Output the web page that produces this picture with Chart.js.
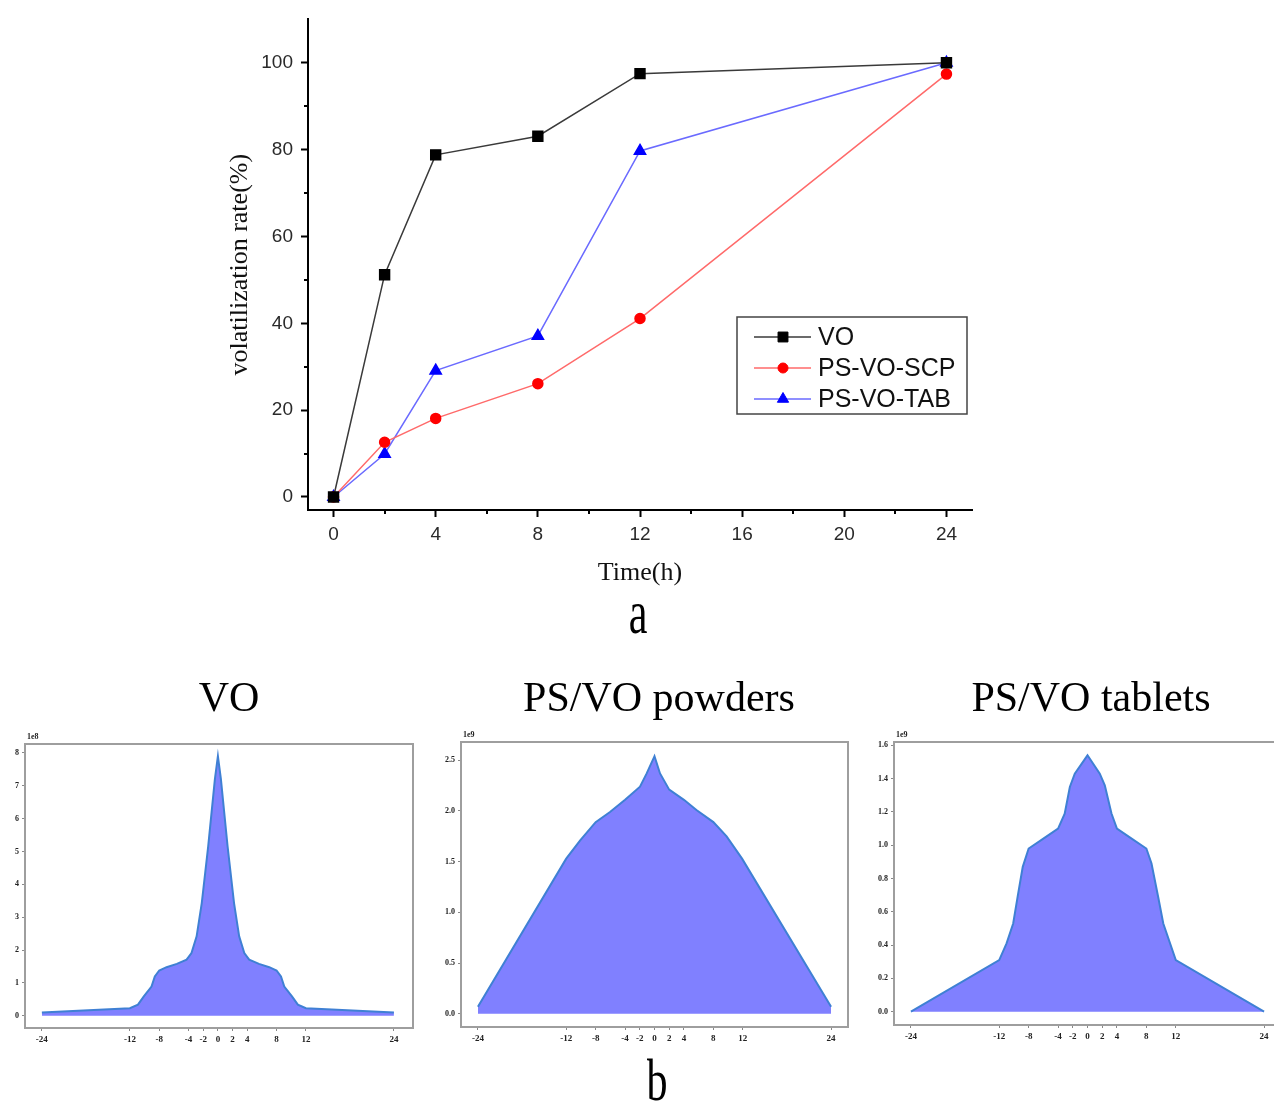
<!DOCTYPE html>
<html>
<head>
<meta charset="utf-8">
<script src="https://cdn.jsdelivr.net/npm/chart.js@4.4.0/dist/chart.umd.min.js"></script>
<style>
  html, body { margin: 0; padding: 0; background: #fff; overflow: hidden; width: 1274px; height: 1102px; }
  canvas { position: absolute; }
  .lbl { position: absolute; font-family: "Liberation Serif", "Times New Roman", serif; color: #000;
         white-space: nowrap; line-height: 1; }
</style>
</head>
<body>
<canvas id="rate" width="1274" height="600" style="left:0;top:0"></canvas>
<canvas id="profVO" width="430" height="410" style="left:0;top:650px"></canvas>
<canvas id="profPowder" width="430" height="410" style="left:430px;top:650px"></canvas>
<canvas id="profTablet" width="430" height="410" style="left:860px;top:650px"></canvas>

<div class="lbl" style="left:638px;top:612px;font-size:62px;transform:translate(-50%,-50%) scaleX(0.68)">a</div>
<div class="lbl" style="left:229px;top:697px;font-size:42px;transform:translate(-50%,-50%)">VO</div>
<div class="lbl" style="left:659px;top:697px;font-size:42px;transform:translate(-50%,-50%)">PS/VO powders</div>
<div class="lbl" style="left:1091px;top:697px;font-size:42px;transform:translate(-50%,-50%)">PS/VO tablets</div>
<div class="lbl" style="left:657px;top:1080px;font-size:60px;transform:translate(-50%,-50%) scaleX(0.7)">b</div>

<script>
// ---- volatilization over time ----
const timeHours = [0, 2, 4, 8, 12, 24];
const voRate    = [0, 51.2, 78.8, 83.1, 97.5, 100];
const scpRate   = [0, 12.6, 18.1, 26.1, 41.1, 97.4];
const tabRate   = [0, 9.9, 29.1, 37.1, 79.7, 100];
const seriesNames = ['VO', 'PS-VO-SCP', 'PS-VO-TAB'];
const timeTicks  = [0, 4, 8, 12, 16, 20, 24];
const timeMinor  = [2, 6, 10, 14, 18, 22];
const rateTicks  = [0, 20, 40, 60, 80, 100];
const rateMinor  = [10, 30, 50, 70, 90];

// ---- release profiles (position vs. intensity) ----
const profileTicks = [-24, -12, -8, -4, -2, 0, 2, 4, 8, 12, 24];

const voProfX = [-24, -12, -10.9, -10.1, -9.05, -8.6, -8, -7, -5.6, -4.27, -3.6, -2.9, -2.2, -1.32, -0.41, 0,
                 0.41, 1.32, 2.2, 2.9, 3.6, 4.27, 5.6, 7, 8, 8.6, 9.05, 10.1, 10.9, 12, 24];
const voProfY = [0.1, 0.23, 0.34, 0.59, 0.89, 1.2, 1.38, 1.48, 1.58, 1.71, 1.91, 2.42, 3.43, 5.16, 7.2, 7.9,
                 7.2, 5.16, 3.43, 2.42, 1.91, 1.71, 1.58, 1.48, 1.38, 1.2, 0.89, 0.59, 0.34, 0.23, 0.1];
const voProfTicks = [0, 1, 2, 3, 4, 5, 6, 7, 8];

const powderProfX = [-24, -12, -10.1, -8, -6.05, -4, -1.97, -1.06, 0, 0.75, 2, 4, 5.7, 8, 9.8, 11.9, 24];
const powderProfY = [0.07, 1.53, 1.71, 1.89, 1.99, 2.11, 2.24, 2.37, 2.54, 2.37, 2.21, 2.11, 2.01, 1.89, 1.75, 1.53, 0.07];
const powderProfTicks = [0, 0.5, 1.0, 1.5, 2.0, 2.5];

const tabletProfX = [-24, -12, -11, -10.1, -9.5, -8.8, -8, -6, -4, -3.1, -2.4, -1.73, 0,
                     1.67, 2.35, 3.26, 4, 6, 8, 8.7, 9.6, 10.3, 12, 24];
const tabletProfY = [0.0, 0.31, 0.41, 0.53, 0.69, 0.87, 0.98, 1.04, 1.10, 1.19, 1.35, 1.43, 1.54,
                     1.43, 1.36, 1.19, 1.10, 1.04, 0.98, 0.89, 0.69, 0.53, 0.31, 0.0];
const tabletProfTicks = [0, 0.2, 0.4, 0.6, 0.8, 1.0, 1.2, 1.4, 1.6];

const SANS = '"Liberation Sans", Arial, sans-serif';
const SERIF = '"Liberation Serif", "Times New Roman", serif';

const toPoints = (xs, ys) => xs.map((x, i) => ({ x: x, y: ys[i] }));

// minor tick marks and the framed legend for the time chart
const rateDecor = {
  id: 'rateDecor',
  afterDraw(chart) {
    const ctx = chart.ctx, xs = chart.scales.x, ys = chart.scales.y;
    const area = chart.chartArea;
    ctx.save();
    ctx.strokeStyle = '#000';
    ctx.lineWidth = 2;
    ctx.beginPath();
    timeMinor.forEach(v => {
      const px = Math.round(xs.getPixelForValue(v));
      ctx.moveTo(px, area.bottom); ctx.lineTo(px, area.bottom + 4);
    });
    rateMinor.forEach(v => {
      const py = Math.round(ys.getPixelForValue(v));
      ctx.moveTo(area.left, py); ctx.lineTo(area.left - 4, py);
    });
    ctx.stroke();

    // legend
    const bx = 737, by = 317, bw = 230, bh = 97, rowH = 31;
    ctx.fillStyle = '#fff';
    ctx.fillRect(bx, by, bw, bh);
    ctx.strokeStyle = '#444';
    ctx.lineWidth = 1.5;
    ctx.strokeRect(bx, by, bw, bh);
    ctx.font = '25px ' + SANS;
    ctx.textBaseline = 'middle';
    chart.data.datasets.forEach((ds, i) => {
      const cy = by + 20 + i * rowH;
      ctx.strokeStyle = ds.borderColor;
      ctx.lineWidth = ds.borderWidth;
      ctx.beginPath();
      ctx.moveTo(bx + 17, cy); ctx.lineTo(bx + 74, cy);
      ctx.stroke();
      ctx.fillStyle = ds.pointBackgroundColor;
      ctx.strokeStyle = ds.pointBorderColor;
      ctx.lineWidth = 1;
      Chart.helpers.drawPoint(ctx, { pointStyle: ds.pointStyle, radius: ds.pointRadius, rotation: 0, borderWidth: 1 }, bx + 46, cy);
      ctx.fillStyle = '#111';
      ctx.fillText(ds.label, bx + 81, cy + 1);
    });
    ctx.restore();
  }
};

new Chart(document.getElementById('rate'), {
  type: 'line',
  data: {
    datasets: [
      { label: seriesNames[0], data: toPoints(timeHours, voRate), borderColor: '#3a3a3a', borderWidth: 1.5,
        pointStyle: 'rect', pointRadius: 7, pointBackgroundColor: '#000', pointBorderColor: '#000' },
      { label: seriesNames[1], data: toPoints(timeHours, scpRate), borderColor: '#ff6a6a', borderWidth: 1.5,
        pointStyle: 'circle', pointRadius: 5, pointBackgroundColor: '#ff0000', pointBorderColor: '#ff0000' },
      { label: seriesNames[2], data: toPoints(timeHours, tabRate), borderColor: '#6a6aff', borderWidth: 1.5,
        pointStyle: 'triangle', pointRadius: 6.5, pointBackgroundColor: '#0000ff', pointBorderColor: '#0000ff' }
    ]
  },
  options: {
    responsive: false,
    animation: false,
    clip: false,
    layout: { padding: { left: 208, right: 302, top: 18, bottom: 0 } },
    plugins: { legend: { display: false }, tooltip: { enabled: false } },
    scales: {
      x: {
        type: 'linear', min: -1, max: 25,
        afterBuildTicks: s => { s.ticks = timeTicks.map(v => ({ value: v })); },
        afterFit: s => { s.height = 90; },
        grid: { drawOnChartArea: false, drawTicks: true, tickLength: 7, tickColor: '#000', tickWidth: 2 },
        border: { display: true, color: '#000', width: 2 },
        ticks: { color: '#2a2a2a', font: { family: SANS, size: 19 }, padding: 6, maxRotation: 0, autoSkip: false },
        title: { display: true, text: 'Time(h)', color: '#111', font: { family: SERIF, size: 26 }, padding: { top: 0, bottom: 11 } }
      },
      y: {
        type: 'linear', min: -3, max: 110,
        afterBuildTicks: s => { s.ticks = rateTicks.map(v => ({ value: v })); },
        afterFit: s => { s.width = 100; },
        grid: { drawOnChartArea: false, drawTicks: true, tickLength: 7, tickColor: '#000', tickWidth: 2 },
        border: { display: true, color: '#000', width: 2 },
        ticks: { color: '#2a2a2a', font: { family: SANS, size: 19 }, padding: 8, autoSkip: false },
        title: { display: true, text: 'volatilization rate(%)', color: '#111', font: { family: SERIF, size: 26 }, padding: { top: 17, bottom: 0 } }
      }
    }
  },
  plugins: [rateDecor]
});

// frame and exponent label for each profile panel
const profileFrame = {
  id: 'profileFrame',
  afterDraw(chart, args, opts) {
    const ctx = chart.ctx, a = chart.chartArea;
    ctx.save();
    ctx.strokeStyle = '#9e9e9e';
    ctx.lineWidth = 2;
    ctx.strokeRect(a.left, a.top, a.right - a.left, a.bottom - a.top);
    ctx.fillStyle = '#222';
    ctx.font = 'bold 8px ' + SERIF;
    ctx.textBaseline = 'bottom';
    ctx.textAlign = 'left';
    ctx.fillText(opts.exponent, a.left + 2, a.top - 3);
    ctx.restore();
  }
};

function profileChart(id, xs, ys, yTicks, yMin, yMax, xMin, xMax, decimals, exponent, pad) {
  return new Chart(document.getElementById(id), {
    type: 'line',
    data: {
      datasets: [{
        data: toPoints(xs, ys),
        borderColor: '#3f80d4', borderWidth: 2, backgroundColor: '#8080ff',
        fill: 'origin', pointRadius: 0, tension: 0
      }]
    },
    options: {
      responsive: false,
      animation: false,
      layout: { padding: pad },
      plugins: { legend: { display: false }, tooltip: { enabled: false }, profileFrame: { exponent: exponent } },
      scales: {
        x: {
          type: 'linear', min: xMin, max: xMax,
          afterBuildTicks: s => { s.ticks = profileTicks.map(v => ({ value: v })); },
          afterFit: s => { s.height = 25; },
          grid: { drawOnChartArea: false, tickLength: 3, tickColor: '#888', tickWidth: 1 },
          border: { display: false },
          ticks: { color: '#222', font: { family: SERIF, size: 9, weight: 'bold' }, padding: 3, maxRotation: 0, autoSkip: false }
        },
        y: {
          type: 'linear', min: yMin, max: yMax,
          afterBuildTicks: s => { s.ticks = yTicks.map(v => ({ value: v })); },
          afterFit: s => { s.width = 22; },
          grid: { drawOnChartArea: false, tickLength: 3, tickColor: '#888', tickWidth: 1 },
          border: { display: false },
          ticks: { color: '#222', font: { family: SERIF, size: 8, weight: 'bold' }, padding: 3, autoSkip: false,
                   callback: v => Number(v).toFixed(decimals) }
        }
      }
    },
    plugins: [profileFrame]
  });
}

profileChart('profVO', voProfX, voProfY, voProfTicks, -0.37, 8.27, -26.3, 26.6, 0, '1e8',
             { left: 3, right: 17, top: 94, bottom: 7 });
profileChart('profPowder', powderProfX, powderProfY, powderProfTicks, -0.13, 2.68, -26.3, 26.3, 1, '1e9',
             { left: 9, right: 12, top: 92, bottom: 8 });
profileChart('profTablet', tabletProfX, tabletProfY, tabletProfTicks, -0.08, 1.62, -26.3, 26.3, 1, '1e9',
             { left: 12, right: 9, top: 92, bottom: 10 });
</script>
</body>
</html>
